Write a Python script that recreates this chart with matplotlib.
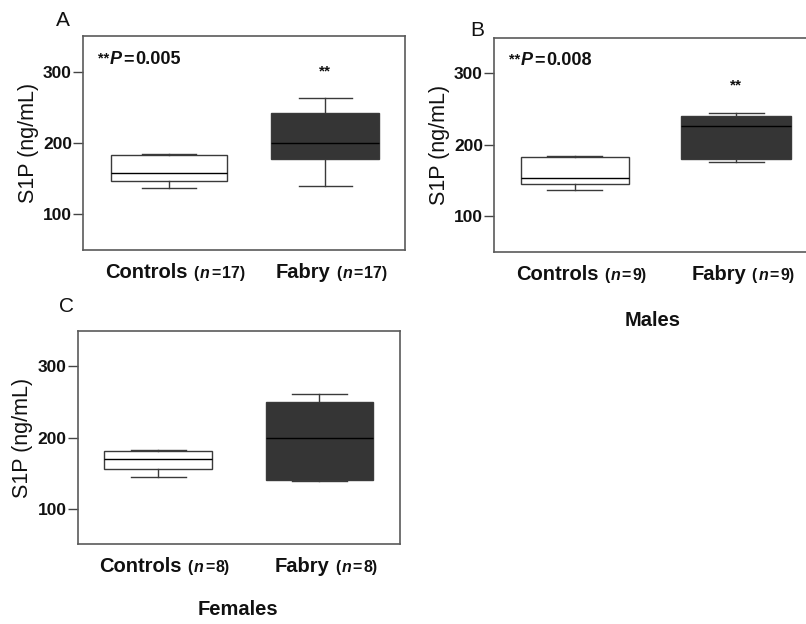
import matplotlib
matplotlib.use('Agg')
import matplotlib.pyplot as plt
from matplotlib.offsetbox import TextArea, HPacker, AnnotationBbox

plt.rcParams['font.family'] = ['Liberation Sans', 'DejaVu Sans']

# box statistics (ng/mL): whislo, q1, med, q3, whishi
groups = ['Controls', 'Fabry']
a_ctrl = [137.5, 147, 158.5, 182.5, 184]
a_fab = [139.5, 178, 199.5, 242.5, 262.5]
b_ctrl = [137, 145, 153.5, 182.5, 183.5]
b_fab = [175, 180.5, 225.5, 240.5, 244.5]
c_ctrl = [145, 155.5, 170, 181, 182]
c_fab = [139, 140.5, 199, 250.5, 261]

n_a = [17, 17]
n_b = [9, 9]
n_c = [8, 8]
p_a = '0.005'
p_b = '0.008'
star_y = {'A': 300, 'B': 283}

yticks = [100, 200, 300]
fill_cols = ['white', '#353535']
txt = '#111111'


def stats(v, label):
    return dict(whislo=v[0], q1=v[1], med=v[2], q3=v[3], whishi=v[4], label=label, fliers=[])


def bold(s, size, italic=False):
    return TextArea(s, textprops=dict(fontsize=size, fontweight='bold', color=txt,
                                      style='italic' if italic else 'normal'))


def panel(rect, letter, ctrl, fab, ns, xlim, widths, pval=None, sub=None, letter_xy=None):
    ax = fig.add_axes(rect)
    bp = ax.bxp([stats(ctrl, groups[0]), stats(fab, groups[1])], positions=[1, 2],
                widths=widths, capwidths=0.34, patch_artist=True, showfliers=False,
                boxprops=dict(edgecolor='#3a3a3a', linewidth=1.0),
                whiskerprops=dict(color='#3a3a3a', linewidth=1.0),
                capprops=dict(color='#3a3a3a', linewidth=1.0),
                medianprops=dict(color='black', linewidth=1.0))
    for patch, c in zip(bp['boxes'], fill_cols):
        patch.set_facecolor(c)
    ax.set_ylim(50, 350)
    ax.set_xlim(*xlim)
    ax.set_yticks(yticks)
    ax.set_xticks([])
    ax.tick_params(axis='y', length=7, width=1.0, color='#444444', pad=1,
                   labelsize=12.5, labelcolor=txt)
    for lab in ax.get_yticklabels():
        lab.set_fontweight('bold')
    for sp in ax.spines.values():
        sp.set_color('#5a5a5a')
        sp.set_linewidth(1.2)
    ax.set_ylabel('S1P (ng/mL)', fontsize=15.5, color=txt, labelpad=3)

    # group labels with sample sizes
    for pos, g, n in zip([1, 2], groups, ns):
        nbox = HPacker(children=[bold('(', 11.5), bold('n', 11.5, True),
                                 bold('=', 11.5), bold(str(n) + ')', 11.5)],
                       align='baseline', pad=0, sep=1)
        pk = HPacker(children=[bold(g, 14.5), nbox], align='baseline', pad=0, sep=4)
        ab = AnnotationBbox(pk, (pos + 0.04, -0.105), xycoords=ax.get_xaxis_transform(),
                            frameon=False, box_alignment=(0.5, 0.5), pad=0,
                            annotation_clip=False)
        ax.add_artist(ab)

    if pval is not None:
        pk = HPacker(children=[bold('**', 10.5), bold('P', 13, True), bold('=', 13),
                               bold(pval, 13)], align='top', pad=0, sep=1)
        ab = AnnotationBbox(pk, (0.045, 0.93), xycoords='axes fraction', frameon=False,
                            box_alignment=(0, 1), pad=0, annotation_clip=False)
        ax.add_artist(ab)
        ax.text(2, star_y[letter], '**', ha='center', va='center', fontsize=11,
                fontweight='bold', color=txt)

    if sub is not None:
        ax.text(sub[0], sub[1], sub[2], transform=fig.transFigure, ha='center', va='center',
                fontsize=14.5, fontweight='bold', color=txt)

    fig.text(letter_xy[0], letter_xy[1], letter, ha='center', va='center', fontsize=15,
             color=txt)
    return ax


fig = plt.figure(figsize=(8.06, 6.24), dpi=100)

panel([0.103, 0.5994, 0.3995, 0.3429], 'A', a_ctrl, a_fab, n_a, (0.45, 2.51),
      [0.74, 0.69], pval=p_a, letter_xy=(63 / 806, 1 - 20 / 624))
panel([0.6129, 0.5966, 0.4007, 0.3433], 'B', b_ctrl, b_fab, n_b, (0.5, 2.5),
      [0.67, 0.68], pval=p_b, sub=(653 / 806, 1 - 320 / 624, 'Males'),
      letter_xy=(477 / 806, 1 - 30 / 624))
panel([0.0964, 0.1277, 0.4, 0.3423], 'C', c_ctrl, c_fab, n_c, (0.5, 2.5),
      [0.67, 0.665], sub=(238 / 806, 1 - 609.5 / 624, 'Females'),
      letter_xy=(67 / 806, 1 - 307 / 624))

fig.savefig('out.png', dpi=100)
